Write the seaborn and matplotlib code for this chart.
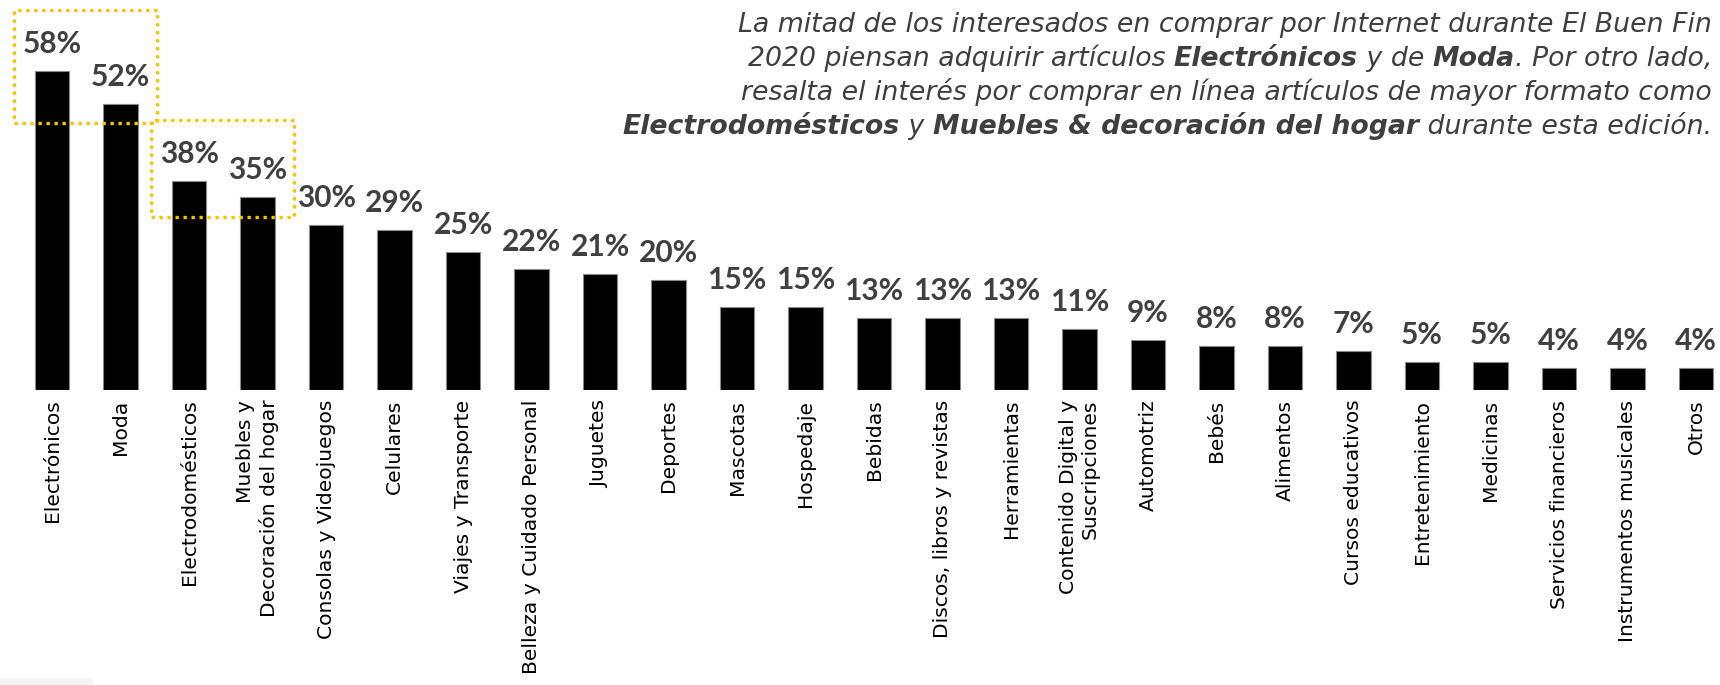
import matplotlib
matplotlib.use("Agg")
import matplotlib.pyplot as plt
from matplotlib.patches import Rectangle
import seaborn as sns
import pandas as pd

categories = [
    "Electrónicos", "Moda", "Electrodomésticos", "Muebles y\nDecoración del hogar",
    "Consolas y Videojuegos", "Celulares", "Viajes y Transporte",
    "Belleza y Cuidado Personal", "Juguetes", "Deportes", "Mascotas", "Hospedaje",
    "Bebidas", "Discos, libros y revistas", "Herramientas",
    "Contenido Digital y\nSuscripciones", "Automotriz", "Bebés", "Alimentos",
    "Cursos educativos", "Entretenimiento", "Medicinas", "Servicios financieros",
    "Instrumentos musicales", "Otros",
]
values = [58, 52, 38, 35, 30, 29, 25, 22, 21, 20, 15, 15, 13, 13, 13, 11, 9, 8, 8, 7, 5, 5, 4, 4, 4]
value_labels = [f"{v}%" for v in values]

# groups of bars framed by dotted highlight boxes (first/last index)
highlight_groups = [(0, 1), (2, 3)]

headline_lines = [
    [("La mitad de los interesados en comprar por Internet durante El Buen Fin", "normal")],
    [("2020 piensan adquirir artículos ", "normal"), ("Electrónicos", "bold"),
     (" y de ", "normal"), ("Moda", "bold"), (". Por otro lado,", "normal")],
    [("resalta el interés por comprar en línea artículos de mayor formato como", "normal")],
    [("Electrodomésticos", "bold"), (" y ", "normal"),
     ("Muebles & decoración del hogar", "bold"), (" durante esta edición.", "normal")],
]

df = pd.DataFrame({"categoria": categories, "valor": values})

sns.set_theme(style="white")
plt.rcParams["font.family"] = ["DejaVu Sans"]

fig = plt.figure(figsize=(17.2, 6.85), dpi=100)
ax = fig.add_axes([0.0, 295 / 685, 1.0, 390 / 685])

sns.barplot(data=df, x="categoria", y="valor", color="black", saturation=1,
            width=0.5, edgecolor="#8a8a8a", linewidth=0.8, ax=ax)

ax.set_xlim(-0.76, 24.35)
ax.set_ylim(0, 70.9)
for s in ax.spines.values():
    s.set_visible(False)
ax.set_yticks([])
ax.set_xlabel("")
ax.set_ylabel("")
ax.tick_params(axis="x", length=0, pad=7)
ax.set_xticks(range(len(categories)))
ax.set_xticklabels(categories, rotation=90, ha="center", va="top",
                   fontsize=14.6, color="black", multialignment="right",
                   family=["DejaVu Sans"])

for i, (v, lab) in enumerate(zip(values, value_labels)):
    ax.annotate(lab, xy=(i, v), xytext=(0, 13), textcoords="offset points",
                ha="center", va="baseline", fontsize=21.5, fontweight="bold",
                color="#404040", family=["Lato", "DejaVu Sans"])

# dotted highlight frames
for a, b in highlight_groups:
    hi = max(values[a:b + 1]) + 11
    lo = min(values[a:b + 1]) - 3.5
    rect = Rectangle((a - 0.55, lo), (b - a) + 1.08, hi - lo, fill=False,
                     edgecolor="#FFC000", linewidth=2.4, linestyle=(0, (1, 1.4)),
                     clip_on=False, zorder=5)
    rect.set_capstyle("butt")
    ax.add_patch(rect)

# headline: right-aligned lines with bold segments, chained right to left
baselines_px = [32, 66, 100, 134]
for segs, ypx in zip(headline_lines, baselines_px):
    prev = None
    for text, weight in reversed(segs):
        kw = dict(fontsize=19.3, style="italic", fontweight=weight, color="#3f3f3f",
                  family=["DejaVu Sans"], ha="right")
        if prev is None:
            prev = fig.text(1712 / 1720, 1 - ypx / 685, text, va="baseline", **kw)
        else:
            prev = ax.annotate(text, xy=(0, 0), xycoords=prev, va="bottom",
                               annotation_clip=False, **kw)

fig.patches.append(Rectangle((0, 0), 93 / 1720, 7 / 685, transform=fig.transFigure,
                             facecolor="#f4f4f4", edgecolor="none"))

fig.savefig("out.png", dpi=100)
